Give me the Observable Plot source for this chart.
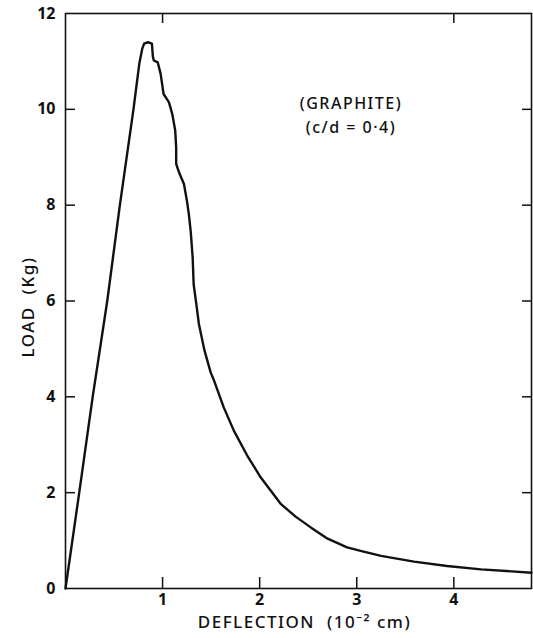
<!DOCTYPE html>
<html><head><meta charset="utf-8">
<script src="https://cdn.jsdelivr.net/npm/d3@7"></script>
<script src="https://cdn.jsdelivr.net/npm/@observablehq/plot@0.6"></script>
<style>
html,body{margin:0;padding:0;background:#fff}
svg{display:block}
svg g[aria-label="text"] text{letter-spacing:1.5px}
</style>
</head><body><div id="chart"></div>
<script>
const deflection = [0, 0.14, 0.28, 0.43, 0.56, 0.70, 0.76, 0.79, 0.81, 0.85, 0.89, 0.90, 0.91, 0.95, 0.98, 1.01, 1.065, 1.10, 1.13, 1.14, 1.14, 1.17, 1.22, 1.25, 1.27, 1.29, 1.31, 1.32, 1.35, 1.374, 1.43, 1.495, 1.53, 1.63, 1.735, 1.87, 2.01, 2.22, 2.37, 2.53, 2.70, 2.90, 3.05, 3.25, 3.59, 3.93, 4.28, 4.80];
const load = [0, 1.98, 4.0, 6.0, 8.0, 10.0, 10.95, 11.26, 11.37, 11.40, 11.37, 11.10, 11.02, 10.98, 10.74, 10.32, 10.15, 9.90, 9.56, 9.20, 8.86, 8.68, 8.44, 8.10, 7.82, 7.45, 6.90, 6.35, 5.90, 5.52, 4.98, 4.51, 4.34, 3.78, 3.29, 2.78, 2.32, 1.76, 1.50, 1.27, 1.04, 0.86, 0.78, 0.68, 0.56, 0.47, 0.40, 0.33];
const xTickValues = [1, 2, 3, 4];
const yLabelValues = [0, 2, 4, 6, 8, 10, 12];
const sideTickValues = [2, 4, 6, 8, 10];
const topTickValues = [1, 4];
const xTitle = "DEFLECTION  (10\u207B\u00B2 cm)";
const yTitle = "LOAD  (Kg)";
const noteLines = ["(GRAPHITE)", "(c/d = 0\u00B74)"];

const curve = deflection.map((x, i) => ({x, y: load[i]}));
const blank = () => "";

const chart = Plot.plot({
  width: 533,
  height: 638,
  marginLeft: 65,
  marginRight: 2,
  marginTop: 13,
  marginBottom: 50,
  x: {domain: [0, 4.8]},
  y: {domain: [0, 12]},
  style: {fontFamily: "'Noto Sans', sans-serif", fontSize: "16px", color: "#111", background: "#fff"},
  marks: [
    Plot.frame({stroke: "#111", strokeWidth: 1.6}),
    Plot.axisX(xTickValues, {anchor: "bottom", tickSize: -11, tickPadding: 16, strokeWidth: 1.5, label: null, fontSize: 16, fontWeight: 700}),
    Plot.axisX(topTickValues, {anchor: "top", tickSize: -9, tickFormat: blank, label: null, strokeWidth: 1.5}),
    Plot.axisY(yLabelValues, {anchor: "left", tickSize: 0, tickPadding: 10, label: null, fontSize: 16, fontWeight: 700}),
    Plot.axisY(sideTickValues, {anchor: "left", tickSize: -10, tickFormat: blank, label: null, strokeWidth: 1.5}),
    Plot.axisY(sideTickValues, {anchor: "right", tickSize: -10, tickFormat: blank, label: null, strokeWidth: 1.5}),
    Plot.line(curve, {x: "x", y: "y", stroke: "#111", strokeWidth: 2.4, strokeLinejoin: "round"}),
    Plot.text([xTitle], {frameAnchor: "bottom", lineAnchor: "middle", textAnchor: "middle", dy: 34, dx: 6, fontSize: 17, fontWeight: 500, fill: "#111"}),
    Plot.text([yTitle], {frameAnchor: "left", textAnchor: "middle", lineAnchor: "middle", rotate: -90, dx: -37, dy: 6, fontSize: 17, fontWeight: 500, fill: "#111"}),
    Plot.text([noteLines.join("\n")], {x: 2.94, y: 9.92, lineHeight: 1.5, fontSize: 16, fontWeight: 500, fill: "#111"})
  ]
});
document.getElementById("chart").append(chart);
</script>
</body></html>
